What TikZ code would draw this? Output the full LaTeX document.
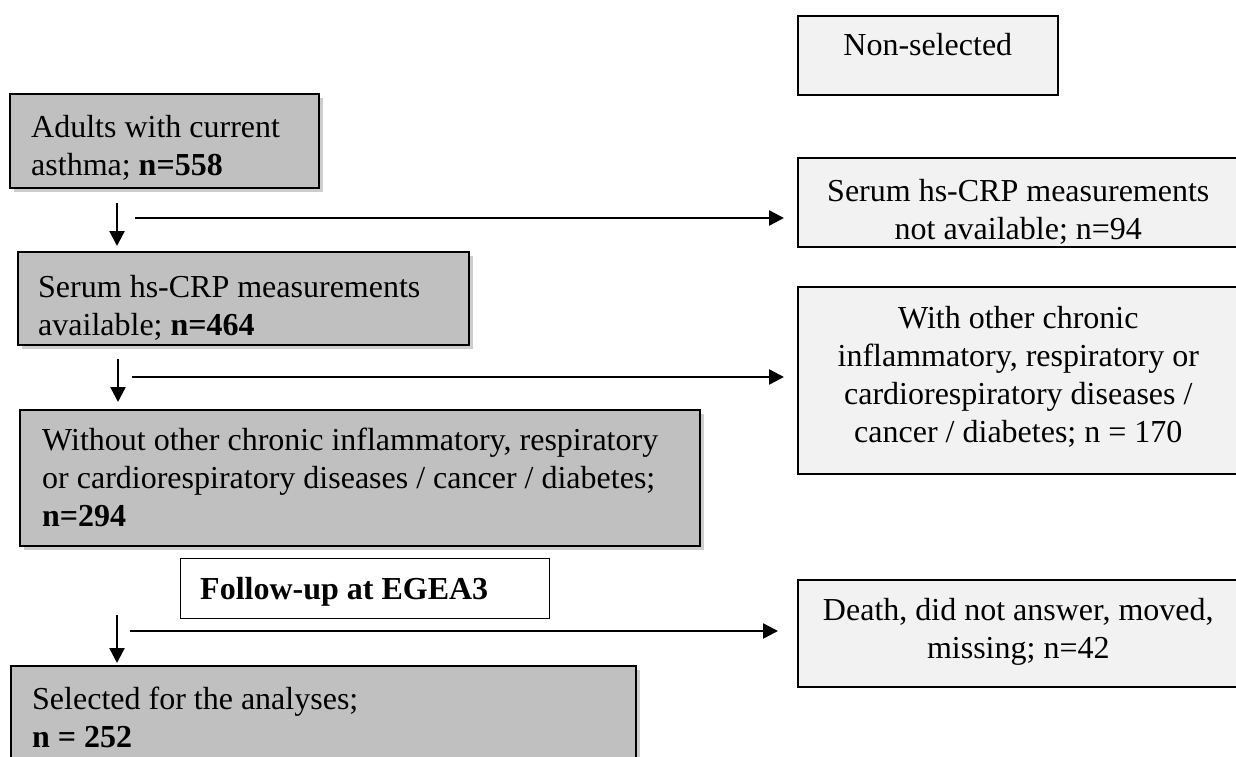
\documentclass[tikz,border=0pt]{standalone}
\usepackage{fontspec}
\setmainfont{Liberation Serif}
\usepackage{xcolor}
\usetikzlibrary{arrows.meta,positioning,shadows}
\definecolor{boxgray}{HTML}{C0C0C0}
\definecolor{palegray}{HTML}{F2F2F2}
\definecolor{shadowgray}{HTML}{CDCDCD}

\begin{document}
\begin{tikzpicture}[x=1pt,y=-1pt,
  >={Triangle[length=15pt,width=15pt]},
  every node/.style={font=\fontsize{32}{38}\selectfont},
  box/.style={draw,line width=1.6pt,anchor=north west,inner sep=0pt},
  greybox/.style={box,fill=boxgray,drop shadow={shadow xshift=4pt,shadow yshift=-4pt,fill=shadowgray,opacity=1}},
  palebox/.style={box,fill=palegray},
  txt/.style={inner sep=0pt,align=left},
  ctxt/.style={inner sep=0pt,align=center},
  flow/.style={line width=2.4pt}]
 \useasboundingbox (0,0) rectangle (1236,756);

 % left column
 \node[greybox,minimum width=309,minimum height=94] (adults) at (9,93) {};
 \node[txt,below right=22pt and 22pt of adults.north west] (adultstxt) {Adults with current\\asthma; \textbf{n=558}};
 \node[greybox,minimum width=451,minimum height=93] (serum) at (17,251) {};
 \node[txt,below right=24pt and 21pt of serum.north west] (serumtxt) {Serum hs-CRP measurements\\available; \textbf{n=464}};
 \node[greybox,minimum width=680,minimum height=136] (without) at (19,409) {};
 \node[txt,below right=19pt and 23pt of without.north west] (withouttxt) {Without other chronic inflammatory, respiratory\\or cardiorespiratory diseases / cancer / diabetes;\\\textbf{n=294}};
 \node[box,fill=white,line width=1.2pt,minimum width=369,minimum height=60] (followup) at (180,558) {};
 \node[txt,below right=19pt and 20pt of followup.north west] (followuptxt) {\textbf{Follow-up at EGEA3}};
 \node[greybox,minimum width=625,minimum height=100] (selected) at (10,665) {};
 \node[txt,below right=22pt and 22pt of selected.north west] (selectedtxt) {Selected for the analyses;\\\textbf{n = 252}};

 % right column
 \node[palebox,minimum width=260,minimum height=79] (nonsel) at (797,15) {};
 \node[ctxt,below=18pt of nonsel.north] (nonseltxt) {Non-selected};
 \node[palebox,minimum width=441,minimum height=89] (nonavail) at (797,157) {};
 \node[ctxt,below=22pt of nonavail.north] (nonavailtxt) {Serum hs-CRP measurements\\not available; n=94};
 \node[palebox,minimum width=441,minimum height=187] (withother) at (797,286) {};
 \node[ctxt,below=20pt of withother.north] (withothertxt) {With other chronic\\inflammatory, respiratory or\\cardiorespiratory diseases /\\cancer / diabetes; n = 170};
 \node[palebox,minimum width=441,minimum height=107] (death) at (797,579) {};
 \node[ctxt,below=19pt of death.north] (deathtxt) {Death, did not answer, moved,\\missing; n=42};

 % arrows
 \coordinate (down1) at (117,203);  \coordinate (down1end) at (117,246);
 \coordinate (out1) at (135,218);   \coordinate (out1end) at (784,218);
 \coordinate (down2) at (118,359);  \coordinate (down2end) at (118,402);
 \coordinate (out2) at (132,377);   \coordinate (out2end) at (784,377);
 \coordinate (down3) at (117,615);  \coordinate (down3end) at (117,663);
 \coordinate (out3) at (130,631);   \coordinate (out3end) at (778,631);
 \draw[flow,->] (down1) -- (down1end);
 \draw[flow,->] (out1) -- (out1end);
 \draw[flow,->] (down2) -- (down2end);
 \draw[flow,->] (out2) -- (out2end);
 \draw[flow,->] (down3) -- (down3end);
 \draw[flow,->] (out3) -- (out3end);

\end{tikzpicture}
\end{document}
